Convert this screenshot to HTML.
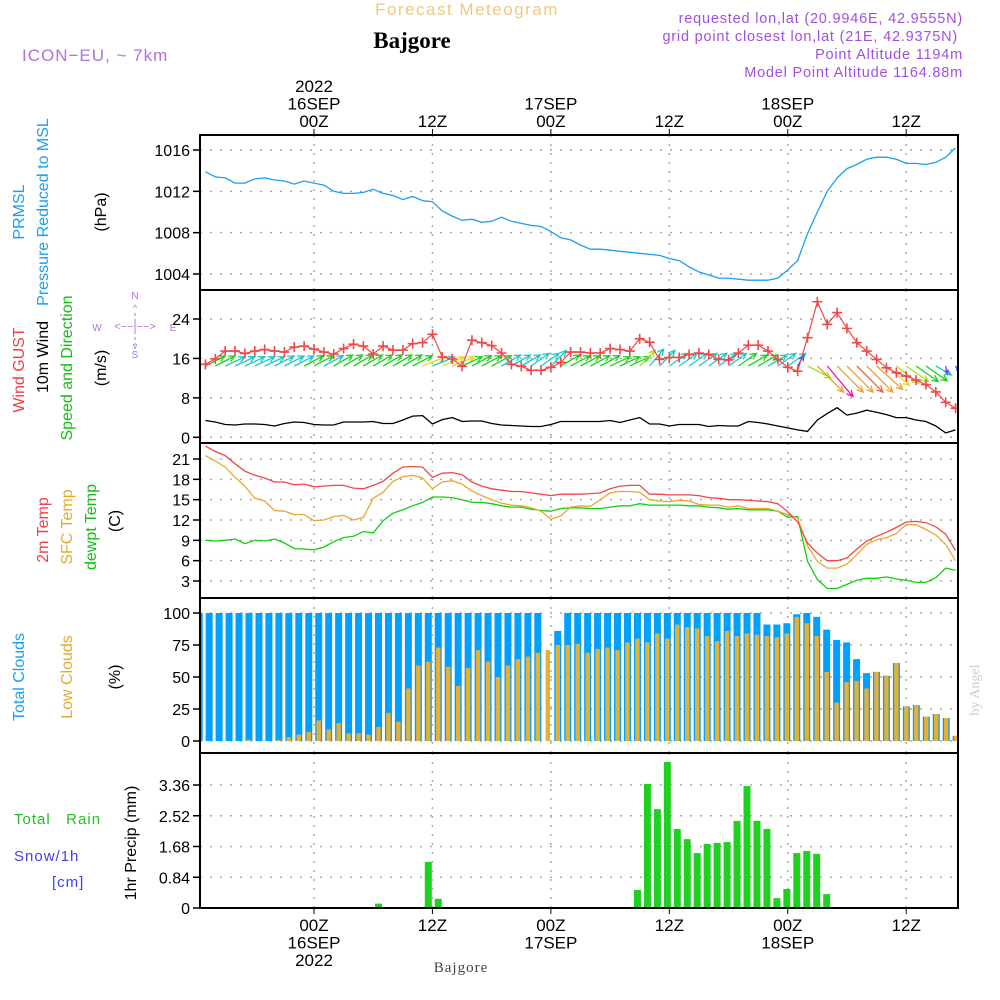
<!DOCTYPE html>
<html><head><meta charset="utf-8"><style>
html,body{margin:0;padding:0;background:#fff;}
#wrap{position:relative;width:1000px;height:1000px;overflow:hidden;}
svg text{font-family:"Liberation Sans Narrow","Liberation Sans",sans-serif;}
</style></head><body>
<div id="wrap">
<svg id="chart" width="1000" height="1000" xmlns="http://www.w3.org/2000/svg">
<g id="static">
<text x="467" y="15" text-anchor="middle" font-size="17" fill="#f0c880" letter-spacing="1.5">Forecast Meteogram</text>
<text x="412" y="48" text-anchor="middle" font-size="23" font-weight="bold" fill="#000" style="font-family:'Liberation Serif',serif">Bajgore</text>
<text x="22" y="61" font-size="17" fill="#b070e0" letter-spacing="1">ICON−EU, ~ 7km</text>
<g font-size="14.5" fill="#a050e0" text-anchor="end" letter-spacing="0.8">
<text x="963" y="23">requested lon,lat (20.9946E, 42.9555N)</text>
<text x="958" y="41">grid point closest lon,lat (21E, 42.9375N)</text>
<text x="963" y="59">Point Altitude 1194m</text>
<text x="963" y="77">Model Point Altitude 1164.88m</text>
</g>
<text x="979" y="690" font-size="14" fill="#ccc" transform="rotate(-90 979 690)" text-anchor="middle" style="font-family:'Liberation Serif',serif">by Angel</text>
<text x="461" y="972" text-anchor="middle" font-size="15" fill="#444" letter-spacing="1" style="font-family:'Liberation Serif',serif">Bajgore</text>
<!-- left labels -->
<g font-size="16">
<text transform="translate(24,212) rotate(-90)" text-anchor="middle" fill="#1aa0f0">PRMSL</text>
<text transform="translate(48,212) rotate(-90)" text-anchor="middle" fill="#1aa0f0">Pressure Reduced to MSL</text>
<text transform="translate(106,212) rotate(-90)" text-anchor="middle" fill="#000">(hPa)</text>
<text transform="translate(24,370) rotate(-90)" text-anchor="middle" fill="#f04040">Wind GUST</text>
<text transform="translate(48,357) rotate(-90)" text-anchor="middle" fill="#000">10m Wind</text>
<text transform="translate(72,368) rotate(-90)" text-anchor="middle" fill="#10c010">Speed and Direction</text>
<text transform="translate(106,368) rotate(-90)" text-anchor="middle" fill="#000">(m/s)</text>
<text transform="translate(48,530) rotate(-90)" text-anchor="middle" fill="#f04040">2m Temp</text>
<text transform="translate(72,527) rotate(-90)" text-anchor="middle" fill="#e8a830">SFC Temp</text>
<text transform="translate(96,527) rotate(-90)" text-anchor="middle" fill="#10c010">dewpt Temp</text>
<text transform="translate(120,521) rotate(-90)" text-anchor="middle" fill="#000">(C)</text>
<text transform="translate(24,677) rotate(-90)" text-anchor="middle" fill="#1aa0f0">Total Clouds</text>
<text transform="translate(72,677) rotate(-90)" text-anchor="middle" fill="#e8a830">Low Clouds</text>
<text transform="translate(120,677) rotate(-90)" text-anchor="middle" fill="#000">(%)</text>
<text transform="translate(136,843) rotate(-90)" text-anchor="middle" fill="#000">1hr Precip (mm)</text>
</g>
<g font-size="15" letter-spacing="1">
<text x="14" y="824" fill="#20c020">Total&#160;&#160;&#160;Rain</text>
<text x="14" y="861" fill="#4040f0">Snow/1h</text>
<text x="52" y="887" fill="#4040f0">[cm]</text>
</g>
<g fill="#b070e0" stroke="none" font-size="10">
<text x="135" y="299" text-anchor="middle">N</text>
<text x="135" y="358" text-anchor="middle">S</text>
<text x="97" y="331" text-anchor="middle">W</text>
<text x="173" y="331" text-anchor="middle">E</text>
<text x="135" y="330" text-anchor="middle" font-size="11">&lt;−−|−−&gt;</text>
<text x="135" y="311" text-anchor="middle" font-size="9">^</text>
<line x1="135" y1="313" x2="135" y2="345" stroke="#b070e0" stroke-dasharray="3,3"/>
<text x="135" y="349" text-anchor="middle" font-size="9">v</text>
</g>
</g>
<g id="dyn"></g>
</svg>
</div>
<script>
// ---- data (hourly, t = -11 .. 65 hours from 16SEP 00Z) ----
const hoursStart = -11;
const pressure = [1013.9,1013.4,1013.3,1012.8,1012.8,1013.2,1013.3,1013.1,1013.0,1012.7,1013.0,
1012.8,1012.6,1012.0,1011.8,1011.8,1011.9,1012.2,1011.8,1011.6,1011.2,1011.5,1011.1,1011.0,
1010.1,1009.6,1009.2,1009.3,1009.0,1009.1,1009.5,1009.1,1008.9,1008.7,1008.6,
1008.1,1007.5,1007.3,1006.8,1006.4,1006.4,1006.3,1006.2,1006.1,1006.0,1005.9,1005.8,
1005.5,1005.3,1004.7,1004.2,1003.9,1003.6,1003.6,1003.5,1003.4,1003.4,1003.4,1003.6,
1004.4,1005.3,1007.9,1010.0,1012.0,1013.3,1014.2,1014.6,1015.1,1015.3,1015.3,1015.1,1014.7,1014.7,1014.6,1014.8,1015.3,1016.2];
const gust = [14.8,15.9,17.5,17.5,17.0,17.5,17.8,17.5,17.3,18.3,18.5,17.9,17.3,16.9,18.0,18.9,18.5,16.9,18.5,17.7,
17.7,19.0,19.2,20.9,16.3,15.9,14.4,19.7,19.2,18.6,17.1,14.8,14.4,13.6,13.6,14.2,15.2,17.3,17.3,17.1,
17.1,18.0,17.8,17.5,20.0,19.3,15.8,16.2,16.2,16.8,17.1,16.8,15.8,15.7,17.1,18.7,18.7,17.5,15.8,14.2,13.4,
20.2,27.5,22.9,25.3,22.1,19.2,17.5,15.8,14.1,13.1,12.4,11.6,10.7,9.2,7.1,5.9];
const windSpeed = [3.4,3.1,2.6,2.5,2.7,2.7,2.6,2.3,2.8,3.1,3.0,
2.6,2.5,2.5,3.1,3.1,3.1,3.2,2.8,2.8,3.5,4.3,4.4,2.7,
3.6,4.0,3.2,3.3,3.3,2.8,2.5,2.4,2.3,2.2,2.2,2.6,3.2,3.2,
3.2,3.2,3.2,3.4,3.0,3.5,4.0,2.7,2.7,2.3,2.6,2.6,2.6,2.2,2.4,2.3,2.3,3.2,3.0,2.7,2.3,1.9,1.5,
1.2,3.5,4.8,6.0,4.5,4.9,5.5,5.1,4.6,4.0,4.0,3.5,3.2,2.3,0.9,1.5];
// arrow direction (degrees above east on screen), arrow length, colour class
const windArrowAngle = [27,27,25,25,25,25,25,27,27,27,28,28,28,30,30,30,30,30,30,30,30,28,22,22,
22,22,25,28,28,28,30,30,30,35,35,45,30,28,28,28,28,25,25,25,45,50,45,35,35,35,35,35,35,35,35,30,30,30,35,35,60,
-27,-45,-50,-45,-45,-45,-45,-42,-40,-38,-35,-35,-35,-30,-80,-60];
const windArrowLen = [22,22,22,22,22,22,22,22,22,22,22,22,22,22,22,22,22,22,22,22,22,22,24,24,
24,24,22,22,22,22,22,22,22,22,22,22,22,22,22,22,22,22,22,22,22,22,22,22,22,22,22,22,22,22,22,22,22,22,22,22,12,
26,37,40,37,37,37,37,35,30,28,27,27,26,18,8,6];
const windArrowClass = ["g","g","c","c","c","c","c","c","c","c","g","g","c","g","g","g","g","g","g","g","g","g","y","c",
"y","y","g","g","g","g","c","c","c","c","c","c","g","g","g","g","g","g","g","g","l","c","c","c","c","c","c","c","c","c","g","g","g","c","c","c","b",
"l","o","m","o","o","r","o","o","y","l","l","g","g","c","p","b"];
const temp2m = [22.9,22.1,21.5,20.3,19.2,18.6,18.2,17.6,17.6,17.2,17.3,
16.9,17.0,17.1,17.1,16.7,16.6,17.1,17.7,18.9,19.8,19.9,19.8,18.3,
18.9,19.0,18.7,17.6,17.0,16.6,16.4,16.2,16.2,16.0,15.8,15.6,15.8,15.8,
15.8,15.9,16.0,16.6,17.0,17.1,17.1,15.8,15.8,15.7,15.7,15.7,15.6,15.3,15.2,15.0,15.0,14.9,14.8,14.7,14.4,13.2,11.7,
8.6,7.1,6.0,6.0,6.4,7.7,8.9,9.6,10.2,10.9,11.7,11.8,11.6,11.0,9.9,7.5];
const tempSfc = [21.5,20.7,19.8,18.3,17.0,15.2,14.8,13.4,13.3,12.8,12.8,
11.9,12.0,12.5,12.7,12.0,12.4,15.2,16.1,17.7,18.4,18.6,18.2,16.6,
17.6,17.8,17.3,16.3,15.6,15.0,14.5,14.2,14.1,13.8,13.3,12.1,12.6,13.9,
14.1,14.0,15.0,16.0,16.2,16.2,16.1,15.0,14.8,14.7,14.9,14.8,14.3,14.2,14.2,13.9,14.1,13.7,13.7,13.7,13.3,12.8,12.3,
8.2,5.9,4.9,4.9,5.5,6.9,8.4,9.1,9.4,10.0,11.3,11.3,10.6,9.8,8.4,6.0];
const dewpt = [9.0,8.9,9.0,9.2,8.5,9.0,8.9,9.2,8.6,7.8,7.7,
7.6,8.0,8.8,9.4,9.6,10.3,10.1,11.9,13.0,13.5,14.1,14.6,15.4,
15.4,15.3,15.0,14.6,14.6,14.4,14.1,13.9,13.9,13.6,13.4,13.3,13.7,13.8,
13.8,13.7,13.7,13.9,14.1,14.1,14.4,14.2,14.2,14.2,14.2,14.1,14.1,13.9,13.8,13.6,13.7,13.5,13.5,13.5,13.3,12.4,12.5,
5.9,3.2,1.9,1.9,2.5,3.1,3.4,3.4,3.6,3.3,3.1,2.8,2.8,3.5,4.9,4.6];
// bar series (77 hourly bars)
const totalClouds = [100,100,100,100,100,100,100,100,100,100,100,100,100,100,100,100,100,100,100,100,100,100,100,100,100,100,100,100,100,100,100,100,100,100,100,
0,86,100,100,100,100,100,100,100,100,100,100,100,100,100,100,100,100,100,100,100,100,
91,91,92,99,100,97,87,79,77,64,53,54,51,61,27,28,19,21,18,4];
const lowClouds = [0,0,0,0,0,1,0,0,1,3,5,7,16,9,14,6,6,5,11,22,15,41,59,62,73,58,43,57,71,62,50,59,64,66,69,
71,75,75,76,69,72,73,71,77,80,77,84,80,91,89,88,82,78,86,82,84,83,
82,81,84,97,92,82,54,30,46,47,41,54,51,61,27,28,19,21,18,4];
const precip = [0,0,0,0,0,0,0,0,0,0,0,0,0,0,0,0,0,0,0.12,0,0,0,0,1.26,0.25,0,0,0.02,0,0,0,0,0,0,0,0,0,0,0,0,0,0,0,0,
0.49,3.39,2.70,3.99,2.16,1.88,1.50,1.75,1.78,1.80,2.38,3.33,2.38,2.16,0.27,0.52,1.50,1.56,1.48,0.38,0,0,0,0,0,0,0,0,0,0,0,0,0];
const pressTicks = [1004,1008,1012,1016];
const windTicks = [0,8,16,24];
const tempTicks = [3,6,9,12,15,18,21];
const cloudTicks = [0,25,50,75,100];
const precipTicks = [0,0.84,1.68,2.52,3.36];
const timeTicks = [0,12,24,36,48,60];
const topTimeLabels = [["2022","16SEP","00Z"],["","","12Z"],["","17SEP","00Z"],["","","12Z"],["","18SEP","00Z"],["","","12Z"]];
const botTimeLabels = [["00Z","16SEP","2022"],["12Z","",""],["00Z","17SEP",""],["12Z","",""],["00Z","18SEP",""],["12Z","",""]];

// ---- axes ----
const X0=200, X1=958;
const xT = t => 314 + 9.87*t;
const xB = i => 195.7 + 9.96*i;
const lin = (v0,p0,v1,p1) => v => p0 + (v-v0)*(p1-p0)/(v1-v0);
const yP = lin(1016,150,1004,274);
const yW = lin(0,437.3,24,319);
const yTmp = lin(21,459,3,581);
const yC = lin(0,741,100,613);
const yR = lin(0,908,3.36,785);
const panels = [
 {top:135,bot:290,y:yP,ticks:pressTicks,fmt:v=>String(v),name:'pressure'},
 {top:290,bot:443,y:yW,ticks:windTicks,fmt:v=>String(v),name:'wind'},
 {top:443,bot:598,y:yTmp,ticks:tempTicks,fmt:v=>String(v),name:'temperature'},
 {top:598,bot:753,y:yC,ticks:cloudTicks,fmt:v=>String(v),name:'clouds'},
 {top:753,bot:908,y:yR,ticks:precipTicks,fmt:v=>v===0?'0':v.toFixed(2),name:'precip'}
];
const NS='http://www.w3.org/2000/svg';
const dyn=document.getElementById('dyn');
function mk(tag,attrs,parent){const e=document.createElementNS(NS,tag);for(const k in attrs)e.setAttribute(k,attrs[k]);(parent||dyn).appendChild(e);return e;}
const defs=mk('defs',{});
panels.forEach((p,k)=>{const cp=mk('clipPath',{id:'clip'+k},defs);mk('rect',{x:X0,y:p.top,width:X1-X0,height:p.bot-p.top},cp);});

panels.forEach((p,k)=>{
  const g=mk('g',{});
  
  
  // vertical grid
  timeTicks.forEach(t=>{
    const l=mk('line',{x1:xT(t),x2:xT(t),y1:p.top,y2:p.bot,stroke:'#aaa','stroke-width':1.5,'stroke-dasharray':'2,7'},g);
    
    
  });
  p.ticks.forEach(v=>{
    const y=p.y(v);
    const gl=mk('line',{x1:X0,x2:X1,y1:y,y2:y,stroke:'#aaa','stroke-width':1.5,'stroke-dasharray':'2,8'},g);
    
    
    mk('line',{x1:193,x2:X0,y1:y,y2:y,stroke:'#000','stroke-width':1.5},g);
    const tx=mk('text',{x:190,y:y+6,'text-anchor':'end','font-size':16,fill:'#000'},g);
    tx.textContent=p.fmt(v);
    
    
  });
});

function series(arr,yf,color,name,k,w){
  const pts=arr.map((v,i)=>xT(hoursStart+i).toFixed(1)+','+yf(v).toFixed(1)).join(' ');
  const pl=mk('polyline',{points:pts,fill:'none',stroke:color,'stroke-width':w||1.3,'clip-path':'url(#clip'+k+')'});
  
  
  return pl;
}
// pressure
series(pressure,yP,'#1aa0f0','pressure-line',0);
// wind arrows
const arrowColors={g:'#20d020',c:'#20c8c8',y:'#e8d830',l:'#a0e020',o:'#f0a030',m:'#f01890',r:'#f06040',b:'#2060f0',p:'#9030f0'};
const wg=mk('g',{'clip-path':'url(#clip1)'});


windArrowAngle.forEach((a,i)=>{
  const x=xT(hoursStart+i), y=366, L=windArrowLen[i], r=a*Math.PI/180;
  const ex=x+L*Math.cos(r), ey=y-L*Math.sin(r);
  const c=arrowColors[windArrowClass[i]];
  const h1=r+Math.PI-0.45, h2=r+Math.PI+0.45, hl=Math.min(7,L*0.5);
  const p=mk('path',{d:`M${x},${y}L${ex},${ey}M${ex+hl*Math.cos(h1)},${ey-hl*Math.sin(h1)}L${ex},${ey}L${ex+hl*Math.cos(h2)},${ey-hl*Math.sin(h2)}`,stroke:c,'stroke-width':1.3,fill:'none'},wg);
  
  
});
series(windSpeed,yW,'#000','wind-speed-line',1);
series(gust,yW,'#f04848','gust-line',1,1.2);
const gm=mk('g',{'clip-path':'url(#clip1)'});


gust.forEach((v,i)=>{
  const x=xT(hoursStart+i), y=yW(v);
  const m=mk('path',{d:`M${x-5},${y}H${x+5}M${x},${y-5}V${y+5}`,stroke:'#f04848','stroke-width':1.6},gm);
  
  
});
// temperature
series(dewpt,yTmp,'#10d010','dewpoint-line',2);
series(tempSfc,yTmp,'#e8a830','sfc-temp-line',2);
series(temp2m,yTmp,'#f04848','temp2m-line',2);
// clouds
const cg=mk('g',{'clip-path':'url(#clip3)'});


totalClouds.forEach((v,i)=>{
  if(v<=0) return;
  const b=mk('rect',{x:xB(i),y:yC(v),width:7,height:yC(0)-yC(v),fill:'#00a0ff'},cg);
  
  
});
lowClouds.forEach((v,i)=>{
  if(v<=0) return;
  const b=mk('rect',{x:xB(i)+1.3,y:yC(v),width:4.4,height:yC(0)-yC(v),fill:'#e8b030'},cg);
  
  
});
// precip
const pg=mk('g',{'clip-path':'url(#clip4)'});


precip.forEach((v,i)=>{
  if(v<=0) return;
  const b=mk('rect',{x:xB(i),y:yR(v),width:7,height:yR(0)-yR(v),fill:'#20d020'},pg);
  
  
});
mk('line',{x1:X0,x2:X1,y1:908,y2:908,stroke:'#0a3a0a','stroke-width':2});
// frames
panels.forEach(p=>{
  const r=mk('rect',{x:X0,y:p.top,width:X1-X0,height:p.bot-p.top,fill:'none',stroke:'#000','stroke-width':2});
  
  
});
// time labels
timeTicks.forEach((t,k)=>{
  const x=xT(t);
  mk('line',{x1:x,x2:x,y1:129,y2:135,stroke:'#000'});
  mk('line',{x1:x,x2:x,y1:908,y2:914,stroke:'#000'});
  topTimeLabels[k].forEach((s,j)=>{ if(!s) return;
    const tx=mk('text',{x:x,y:92+j*17.5,'text-anchor':'middle','font-size':17,fill:'#000'});
    tx.textContent=s;
    
    
  });
  botTimeLabels[k].forEach((s,j)=>{ if(!s) return;
    const tx=mk('text',{x:x,y:931+j*17.5,'text-anchor':'middle','font-size':17,fill:'#000'});
    tx.textContent=s;
    
    
  });
});
</script>
</body></html>
